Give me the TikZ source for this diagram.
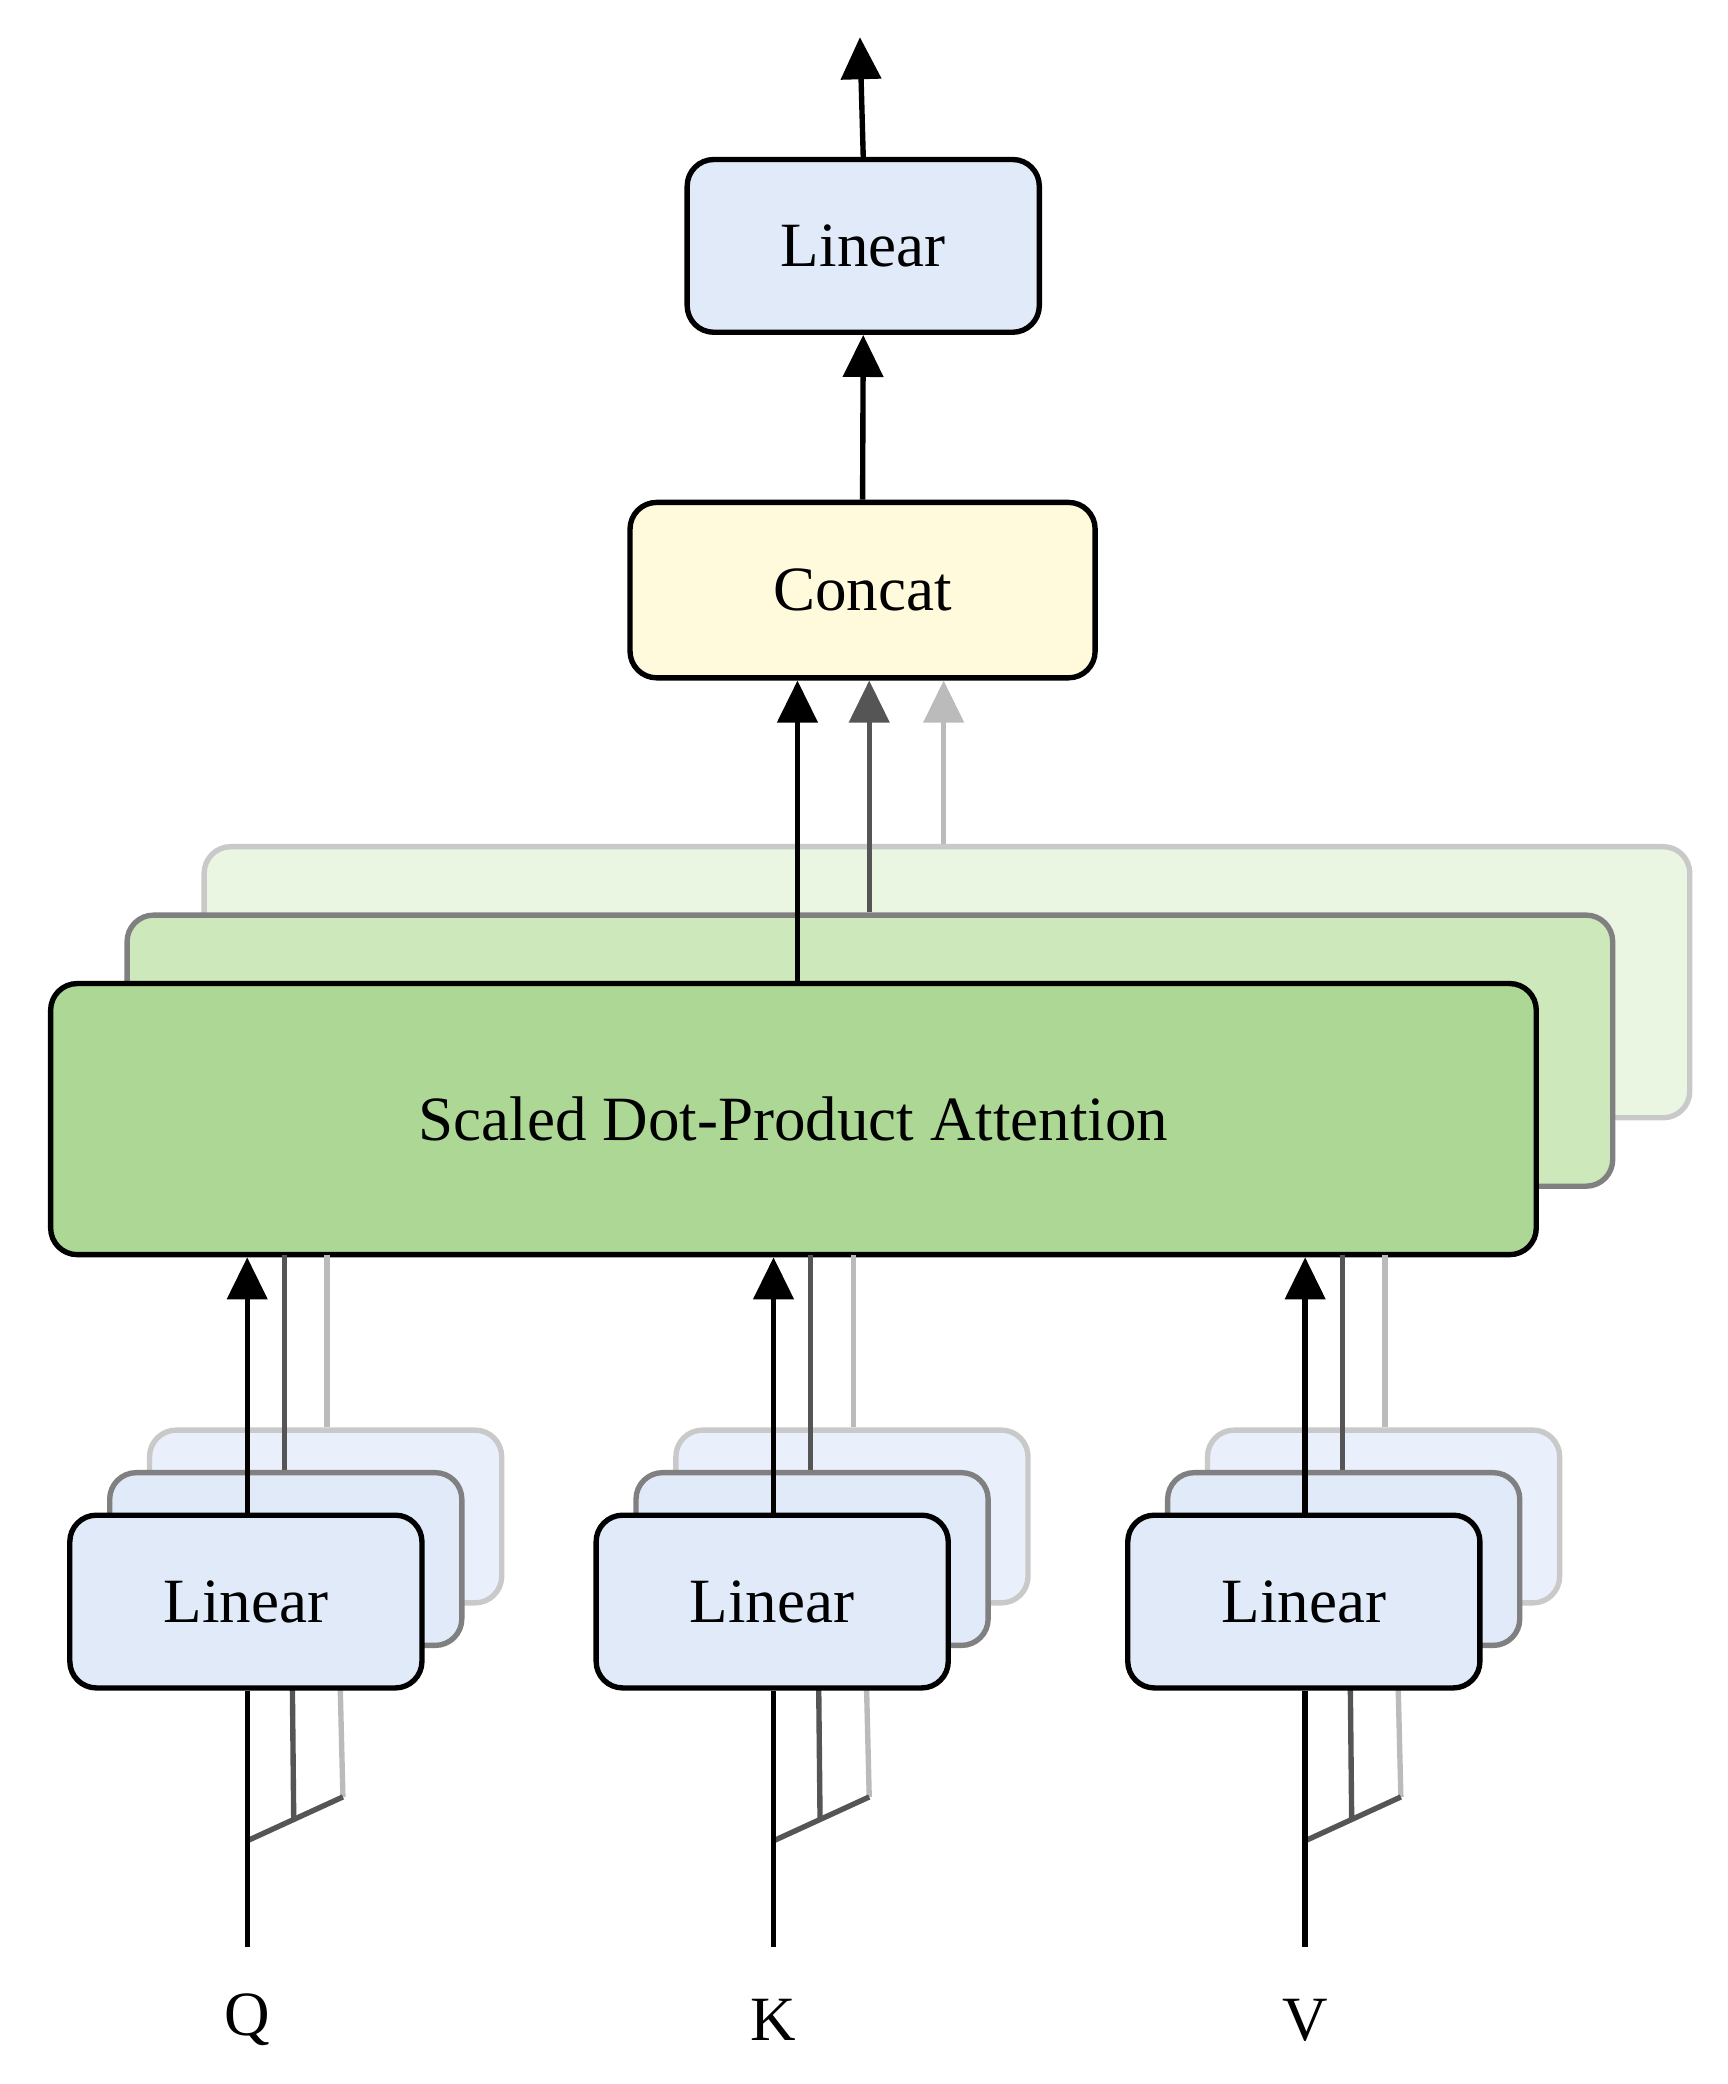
\documentclass[tikz,border=0pt]{standalone}
\usepackage{fontspec}
\setmainfont{Liberation Serif}
\usetikzlibrary{arrows.meta}
\definecolor{lblue}{HTML}{E1EAF9}
\definecolor{lyel}{HTML}{FFFADB}
\definecolor{g1}{HTML}{ADD795}
\definecolor{g2}{HTML}{CDE8BB}
\definecolor{g3}{HTML}{EAF6E2}
\definecolor{dg}{HTML}{555555}
\definecolor{lg}{HTML}{BBBBBB}
\begin{document}
\begin{tikzpicture}[x=0.02cm,y=-0.02cm,
  box/.style={draw=black,line width=2.3pt,rounded corners=0.4cm,font=\fontsize{27}{30}\selectfont,inner sep=0pt},
  lin/.style={box,fill=lblue,minimum width=5.3cm,minimum height=2.6cm},
  blk/.style={line width=2.3pt,black},
  dgl/.style={line width=2.3pt,dg},
  lgl/.style={line width=2.3pt,lg},
  arr/.style={-{Triangle[length=18pt,width=17pt]}}]
\useasboundingbox (0,0) rectangle (1300,1568);
% top
\node[lin] (toplin) at (649.5,185) {Linear};
\node[box,fill=lyel,minimum width=7cm,minimum height=2.64cm] (concat) at (649,444) {Concat};
\coordinate (out) at (647,28);
\draw[blk,arr] (toplin.north) -- (out);
\draw[blk,arr] (concat.north) -- (toplin.south);
% attention stack
\node[box,draw=lg!80,fill=g3,minimum width=22.36cm,minimum height=4.08cm] (att3) at (712.5,739) {};
\node[box,draw=gray,fill=g2,minimum width=22.36cm,minimum height=4.08cm] (att2) at (654.5,790.5) {};
\node[box,fill=g1,minimum width=22.36cm,minimum height=4.08cm] (att1) at (597,842) {Scaled Dot-Product Attention};
\draw[blk,arr] (att1.north -| 600,0) -- (concat.south -| 600,0);
\draw[dgl,arr] (att2.north -| 654,0) -- (concat.south -| 654,0);
\draw[lgl,arr] (att3.north -| 710,0) -- (concat.south -| 710,0);
% bottom groups
\foreach \x/\n/\lab in {185/q/Q,581/k/K,981/v/V}{
  \begin{scope}[xshift=\x*0.02cm]
  \coordinate (\n in) at (1,1465);
  \coordinate (\n br) at (1,1385);
  \coordinate (\n bl) at (73,1352);
  \coordinate (\n bd) at (36,1369);
  \node[font=\fontsize{27}{30}\selectfont] (\n lab) at (1,1520) {\lab};
  \draw[lgl] (\n bl) -- (71,1270);
  \draw[dgl] (\n bd) -- (35,1270);
  \draw[dgl] (\n br) -- (\n bl);
  \node[lin,draw=lg!80,fill=lblue!70] (\n 3) at (60,1141) {};
  \draw[lgl] (\n 3.north -| 61,0) -- (61,944);
  \draw[dgl] (29,1110) -- (29,944);
  \node[lin,draw=gray] (\n 2) at (30,1173) {};
  \node[lin] (\n 1) at (0,1205) {Linear};
  \draw[blk] (\n in) -- (\n 1.south -| \n in);
  \draw[blk,arr] (\n 1.north -| \n in) -- (\n in |- att1.south);
  \end{scope}
}
\end{tikzpicture}
\end{document}
